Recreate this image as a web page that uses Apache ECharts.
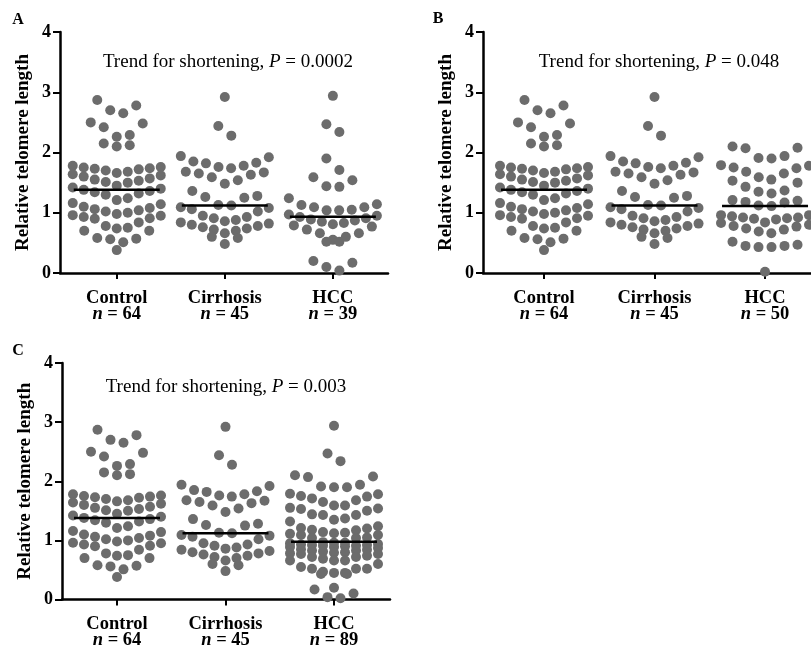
<!DOCTYPE html>
<html><head><meta charset="utf-8">
<script src="https://cdn.jsdelivr.net/npm/echarts@6/dist/echarts.min.js"></script>
<style>html,body{margin:0;padding:0;background:#fff}#c{width:811px;height:650px}</style>
</head><body><div id="c"></div><script>
// ---------- data ----------
const categories = ['Control', 'Cirrhosis', 'HCC'];
const yTicks = [0, 1, 2, 3, 4];
const control = [2.87, 2.78, 2.70, 2.65, 2.50, 2.48, 2.42, 2.29, 2.26, 2.15, 2.12, 2.10,
  1.78, 1.76, 1.75, 1.74, 1.73, 1.72, 1.70,
  1.68, 1.66, 1.64, 1.62, 1.60, 1.57, 1.55, 1.53, 1.51, 1.50,
  1.45, 1.42, 1.40, 1.38, 1.36, 1.34, 1.32, 1.30,
  1.24, 1.21,
  1.16, 1.14, 1.10, 1.08, 1.06, 1.04, 1.02, 1.00, 0.98, 0.96, 0.95, 0.93,
  0.91, 0.90, 0.84, 0.78, 0.75, 0.74, 0.70, 0.70,
  0.58, 0.57, 0.56, 0.51, 0.38];
const cirrhosis = [2.92, 2.44, 2.28,
  1.94, 1.92, 1.85, 1.83, 1.82, 1.78, 1.76, 1.74,
  1.68, 1.67, 1.65, 1.63, 1.59, 1.54, 1.48,
  1.36, 1.28, 1.26, 1.25,
  1.13, 1.12, 1.09, 1.08, 1.06, 1.02,
  0.95, 0.93, 0.91, 0.88, 0.86, 0.84, 0.82, 0.80, 0.78, 0.76, 0.74,
  0.72, 0.70, 0.66, 0.60, 0.58, 0.48];
const hccA = [2.94, 2.47, 2.34, 1.90, 1.71, 1.59, 1.54, 1.44, 1.43, 1.24,
  1.14, 1.13, 1.09, 1.09, 1.05, 1.04, 1.04,
  0.97, 0.95, 0.93, 0.91, 0.89, 0.87, 0.85, 0.83, 0.81, 0.79, 0.77,
  0.72, 0.66, 0.66, 0.60, 0.55, 0.52, 0.52,
  0.20, 0.17, 0.10, 0.04];
const hccB = [2.10, 2.08, 2.07,
  1.94, 1.91, 1.90,
  1.79, 1.78, 1.75, 1.74, 1.68,
  1.65, 1.59, 1.55, 1.53, 1.50, 1.43,
  1.37, 1.35, 1.32, 1.21, 1.20, 1.18, 1.17,
  1.12, 1.11,
  0.96, 0.96, 0.94, 0.92, 0.92, 0.91, 0.90, 0.89, 0.84,
  0.83, 0.80, 0.78, 0.77, 0.74, 0.72, 0.69, 0.66,
  0.52, 0.47, 0.45, 0.45, 0.43, 0.43,
  0.02];
const hccC = hccA.concat(hccB);
const countsA = [64, 45, 39];
const countsB = [64, 45, 50];
const countsC = [64, 45, 89];
const mediansA = [1.38, 1.12, 0.935];
const mediansB = [1.38, 1.12, 1.11];
const mediansC = [1.38, 1.12, 0.975];
const pValues = ['0.0002', '0.048', '0.003'];
const panelLetters = ['A', 'B', 'C'];

// ---------- layout / style ----------
const F = '"Liberation Serif", "Times New Roman", serif';
const DOT = '#6c6c6c';
const GW = 328, GH = 241;
const panels = [
  { left: 60, top: 32, min: -0.525, max: 2.51, groups: [control, cirrhosis, hccA], n: countsA, med: mediansA, letter: [18, 20], note: [228, 62] },
  { left: 483, top: 32, min: -0.552, max: 2.416, groups: [control, cirrhosis, hccB], n: countsB, med: mediansB, letter: [438, 19], note: [659, 62] },
  { left: 62, top: 363, min: -0.507, max: 2.516, groups: [control, cirrhosis, hccC], n: countsC, med: mediansC, letter: [18, 351], note: [226, 387] }
];

// GraphPad-like column scatter: walk the sorted values, group neighbours into
// rows (limited height and count) and spread each row around the column centre.
function columnScatter(values, pxPerX) {
  const H = 0.25, maxN = 9, maxHalf = 44, step = 13;
  const sorted = values.slice().sort((a, b) => b - a);
  const rows = [];
  let cur = null;
  sorted.forEach(v => {
    if (!cur || cur.vals.length >= maxN || v <= cur.top - H) { cur = { top: v, vals: [] }; rows.push(cur); }
    cur.vals.push(v);
  });
  const out = [];
  rows.forEach(r => {
    const arr = r.vals.slice().sort((a, b) => a - b);
    const n = arr.length;
    const s = n > 1 ? Math.min(step, 2 * maxHalf / (n - 1)) : 0;
    const pos = [];
    for (let i = 0; i < n; i++) pos.push((i - (n - 1) / 2) * s);
    pos.sort((a, b) => (Math.abs(a) - Math.abs(b)) || (b - a));
    arr.forEach((v, i) => out.push([pos[i] / pxPerX, v]));
  });
  return out;
}

const grid = [], xAxis = [], yAxis = [], series = [], graphic = [];
panels.forEach((p, pi) => {
  grid.push({ left: p.left, top: p.top, width: GW, height: GH });
  const pxPerX = GW / (p.max - p.min);
  xAxis.push({
    type: 'value', gridIndex: pi, min: p.min, max: p.max,
    splitLine: { show: false },
    axisLine: { show: true, onZero: false, lineStyle: { color: '#000', width: 2.5 } },
    axisTick: { show: true, customValues: [0, 1, 2], length: 6, lineStyle: { color: '#000', width: 2 } },
    axisLabel: {
      customValues: [0, 1, 2], margin: 17,
      formatter: v => { const i = Math.round(v); return '{b|' + categories[i] + '}\n{n|n}{b| = ' + p.n[i] + '}'; },
      rich: {
        b: { fontFamily: F, fontSize: 18.5, fontWeight: 'bold', color: '#000', lineHeight: 16 },
        n: { fontFamily: F, fontSize: 18.5, fontWeight: 'bold', fontStyle: 'italic', color: '#000', lineHeight: 16 }
      }
    }
  });
  yAxis.push({
    type: 'value', gridIndex: pi, min: yTicks[0], max: yTicks[yTicks.length - 1], interval: 1,
    splitLine: { show: false },
    axisLine: { show: true, onZero: false, lineStyle: { color: '#000', width: 2.5 } },
    axisTick: { show: true, length: 7, lineStyle: { color: '#000', width: 2 } },
    axisLabel: { fontFamily: F, fontSize: 18, fontWeight: 'bold', color: '#000', margin: 9 },
    name: 'Relative telomere length', nameLocation: 'middle', nameRotate: 90, nameGap: 27,
    nameTextStyle: { fontFamily: F, fontSize: 19, fontWeight: 'bold', color: '#000' }
  });
  p.groups.forEach((vals, gi) => {
    series.push({
      type: 'scatter', xAxisIndex: pi, yAxisIndex: pi, symbolSize: 10,
      itemStyle: { color: DOT, opacity: 1 }, z: 3, silent: true,
      data: columnScatter(vals, pxPerX).map(d => [gi + d[0], d[1]])
    });
  });
  const hw = 43 / pxPerX;
  p.med.forEach((m, gi) => {
    series.push({
      type: 'line', xAxisIndex: pi, yAxisIndex: pi, symbol: 'none', z: 5, silent: true,
      lineStyle: { color: '#000', width: 2.5 },
      data: [[gi - hw, m], [gi + hw, m]]
    });
  });
  graphic.push({
    type: 'text', x: p.letter[0], y: p.letter[1],
    style: { text: panelLetters[pi], font: 'bold 16px ' + F, fill: '#000', align: 'center', verticalAlign: 'middle' }
  });
  graphic.push({
    type: 'text', x: p.note[0], y: p.note[1],
    style: {
      text: '{a|Trend for shortening, }{p|P}{a| = ' + pValues[pi] + '}',
      align: 'center', verticalAlign: 'middle',
      rich: {
        a: { fontFamily: F, fontSize: 19, fill: '#000', color: '#000' },
        p: { fontFamily: F, fontSize: 19, fontStyle: 'italic', fill: '#000', color: '#000' }
      }
    }
  });
});

const chart = echarts.init(document.getElementById('c'));
chart.setOption({ animation: false, backgroundColor: '#fff', grid, xAxis, yAxis, series, graphic });
</script></body></html>
